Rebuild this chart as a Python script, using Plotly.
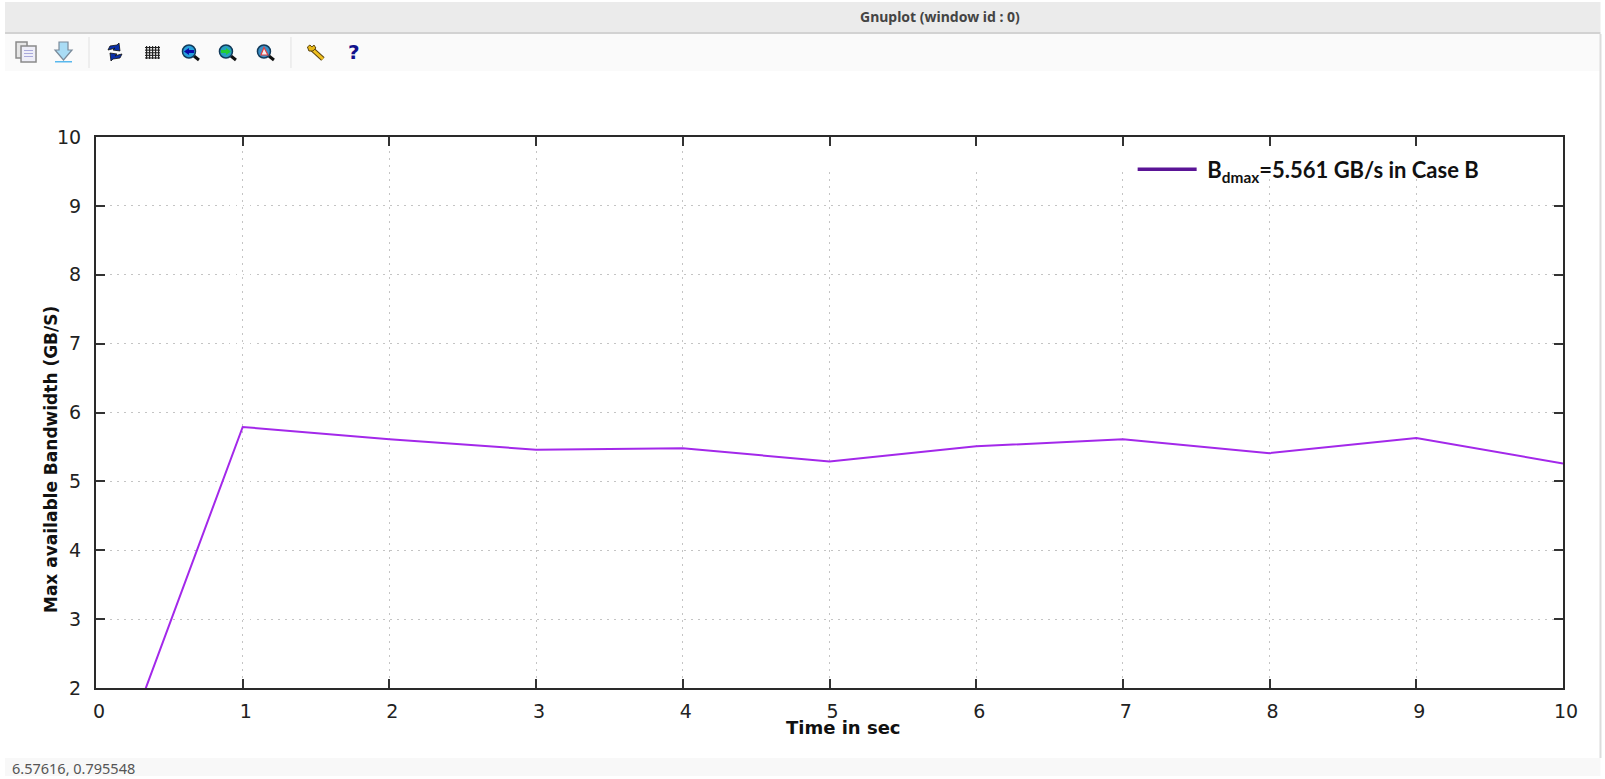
import plotly.graph_objects as go

time_sec = [0, 1, 2, 3, 4, 5, 6, 7, 8, 9, 10]
bandwidth = [0.05, 5.79, 5.61, 5.46, 5.48, 5.29, 5.51, 5.61, 5.41, 5.63, 5.26]
x_ticks = [0, 1, 2, 3, 4, 5, 6, 7, 8, 9, 10]
y_ticks = [2, 3, 4, 5, 6, 7, 8, 9, 10]
legend_label = "\u00a0<b>B<sub>dmax</sub>=5.561 GB/s in Case B</b>"
x_title = "Time in sec"
y_title = "Max available Bandwidth (GB/S)"
window_title = "Gnuplot (window id : 0)"
status_text = "6.57616, 0.795548"

W, H = 1605, 779
L, R, T, B = 96, 1563.5, 137, 688


def px(x):
    return (x - L) / (R - L)


def py(y):
    return (B - y) / (B - T)


def rect(x0, y0, x1, y1, fill, line=None, lw=1, layer="below"):
    return dict(type="rect", xref="paper", yref="paper", x0=px(x0), x1=px(x1), y0=py(y0), y1=py(y1),
                fillcolor=fill, line=dict(color=line or "rgba(0,0,0,0)", width=lw if line else 0), layer=layer)


def poly(pts, fill="rgba(0,0,0,0)", line=None, lw=1, close=True):
    d = "M " + " L ".join(f"{px(a):.5f},{py(b):.5f}" for a, b in pts) + (" Z" if close else "")
    return dict(type="path", xref="paper", yref="paper", path=d, fillcolor=fill,
                line=dict(color=line or "rgba(0,0,0,0)", width=lw if line else 0), layer="above")


def circle(cx, cy, r, fill, line=None, lw=1):
    return dict(type="circle", xref="paper", yref="paper", x0=px(cx - r), x1=px(cx + r), y0=py(cy + r), y1=py(cy - r),
                fillcolor=fill, line=dict(color=line or "rgba(0,0,0,0)", width=lw if line else 0), layer="above")


def label(text, x, y, family, size, color, bold=False, angle=0, xanchor="center"):
    return dict(text=text, xref="paper", yref="paper", x=px(x), y=py(y), showarrow=False, textangle=angle,
                xanchor=xanchor, yanchor="middle",
                font=dict(family=family, size=size, color=color, weight="bold" if bold else "normal"))


shapes = [
    rect(0, 0, W, H, "#ffffff"),
    rect(5, 2, 1601, 32, "#ebebeb"),
    rect(5, 32, 1601, 34, "#d2d2d2"),
    rect(5, 34, 1601, 71, "#fafafa"),
    rect(5, 758, 1601, 776, "#f8f8f8"),
    rect(1600, 34, 1602, 758, "#dcdcdc"),
    rect(88.5, 37, 89.5, 68, "#e2e2e2"),
    rect(290.5, 37, 291.5, 68, "#e2e2e2"),
    # blank patches behind the legend, hiding the tops of the grid lines
    dict(type="rect", xref="x", yref="y", x0=4.5, x1=7.5, y0=9.5, y1=9.86,
         fillcolor="#ffffff", line=dict(width=0), layer="between"),
    dict(type="rect", xref="x", yref="y", x0=7.5, x1=9.3, y0=9.4, y1=9.86,
         fillcolor="#ffffff", line=dict(width=0), layer="between"),
]

# toolbar icons
shapes += [rect(16, 42, 27, 58, "#e6e6e6", "#8a8a8a", 1.5, "above"),
           rect(21, 46, 36, 62, "#eeeef8", "#8a8a8a", 1.5, "above")]
for yy in (50, 53, 56):
    shapes.append(rect(24, yy, 33, yy + 1, "#a9a9dc", layer="above"))
shapes += [poly([(59, 42), (68, 42), (68, 50), (72, 50), (63.5, 60), (55, 50), (59, 50)], "#a9dcf5", "#7a8a9a", 1.2),
           rect(55, 61, 72, 62.5, "#58b8ee", layer="above")]
# refresh
shapes += [poly([(108, 50), (110, 46), (117, 45), (119, 43), (120, 51), (113, 50), (115, 48), (112, 49)], "#0a2fa8", "#111", 0.8),
           poly([(122, 54), (120, 58), (113, 59), (111, 61), (110, 53), (117, 54), (115, 56), (118, 55)], "#0a2fa8", "#111", 0.8)]
# grid
for k in range(5):
    shapes.append(rect(146 + k * 3, 46, 147.2 + k * 3, 59, "#222222", layer="above"))
    shapes.append(rect(145, 47 + k * 2.6, 160, 48.1 + k * 2.6, "#222222", layer="above"))
# zoom icons
for cx, col, arrow in ((190, "#28a0dc", "back"), (227, "#28a0c0", "fwd"), (265, "#3a90c8", "box")):
    shapes.append(poly([(cx + 4, 56), (cx + 9, 60)], line="#111111", lw=3, close=False))
    shapes.append(circle(cx - 1, 51.5, 6.5, col, "#123a5a", 1.5))
    if arrow == "back":
        shapes.append(poly([(cx - 6, 51.5), (cx - 1, 48), (cx - 1, 50), (cx + 4, 50), (cx + 4, 53), (cx - 1, 53), (cx - 1, 55)], "#0a0aa8"))
    elif arrow == "fwd":
        shapes.append(poly([(cx + 4, 51.5), (cx - 1, 48), (cx - 1, 50), (cx - 6, 50), (cx - 6, 53), (cx - 1, 53), (cx - 1, 55)], "#22cc33"))
    else:
        shapes.append(poly([(cx - 4, 55), (cx - 1, 47.5), (cx + 3, 55)], "#f4f0f0", "#e04040", 1.2))
# wrench
shapes += [poly([(312, 49), (323, 59)], line="#5a4410", lw=5, close=False),
           poly([(312, 49), (323, 59)], line="#f0c020", lw=3, close=False),
           poly([(309, 51), (307.5, 47), (310, 45), (312, 47), (314, 45), (316, 48), (313, 51)], "#e8b818", "#5a4410", 1)]

annotations = [
    label(window_title, 940, 16, "Noto Sans", 14, "#444444", True),
    label(status_text, 10, 768, "Noto Sans", 14.5, "#555555", xanchor="left"),
    label("?", 354, 52, "DejaVu Sans", 20, "#12128c", True),
    label(x_title, 844, 727, "DejaVu Sans", 18, "#111111", True),
    label(y_title, 51, 460, "DejaVu Sans", 17, "#111111", True, angle=-90),
]

fig = go.Figure()
fig.add_trace(go.Scatter(x=time_sec, y=bandwidth, mode="lines", showlegend=False,
                         line=dict(color="#a328ea", width=2), hoverinfo="x+y"))
fig.add_trace(go.Scatter(x=[None], y=[None], mode="lines", name=legend_label,
                         line=dict(color="#5a1496", width=3.5)))

axis_common = dict(showline=True, linecolor="#2a2a2a", linewidth=2, mirror="ticks", ticks="inside", ticklen=9,
                   tickwidth=2, tickcolor="#333333", showgrid=True, gridcolor="#c4c4c4", griddash="1.5px,5.5px",
                   gridwidth=1, zeroline=False, tickfont=dict(family="DejaVu Sans", size=19, color="#222222"))
fig.update_layout(
    width=W, height=H, margin=dict(l=L, r=W - R, t=T, b=H - B, pad=0, autoexpand=False),
    paper_bgcolor="#ffffff", plot_bgcolor="#ffffff",
    xaxis=dict(range=[0, 10], tickvals=x_ticks, ticklabelstandoff=5, ticklabelshift=3, **axis_common),
    yaxis=dict(range=[2, 10], tickvals=y_ticks, ticklabelstandoff=9, **axis_common),
    legend=dict(x=px(1133), y=py(148.5), xanchor="left", yanchor="top", bgcolor="rgba(0,0,0,0)", itemwidth=59,
                font=dict(family="Lato", size=22, color="#111111")),
    shapes=shapes, annotations=annotations,
)
fig.write_html("out.html", config=dict(displayModeBar=False),
               post_script="document.body.style.margin='0';document.body.style.overflow='hidden';")
